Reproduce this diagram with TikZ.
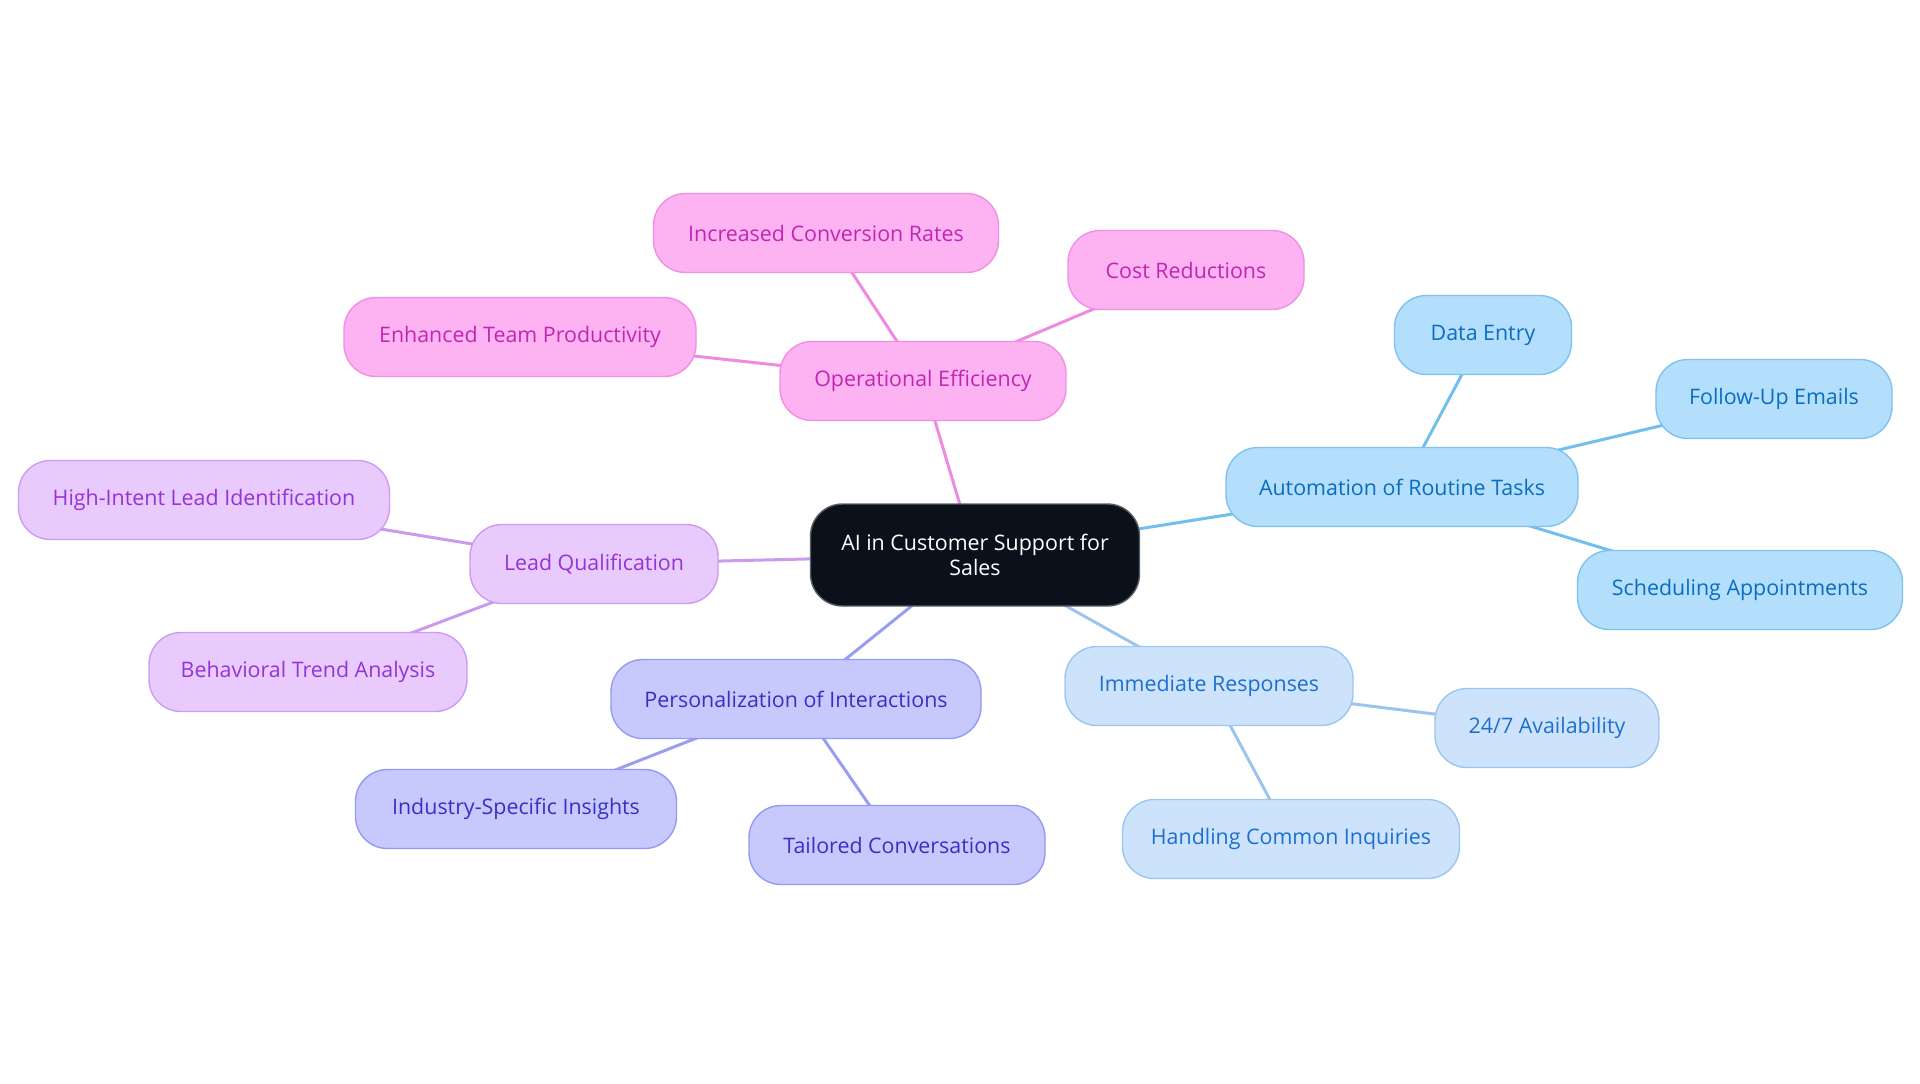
\documentclass[tikz,border=0pt]{standalone}
\usepackage{fontspec}
\setmainfont{Open Sans}
\usetikzlibrary{backgrounds}
\definecolor{cfill}{HTML}{0B111B}
\definecolor{cdraw}{HTML}{5A5F66}
\definecolor{pkfill}{HTML}{FDB3F1}
\definecolor{pkdraw}{HTML}{F08FE3}
\definecolor{pktext}{HTML}{C026B3}
\definecolor{pkedge}{HTML}{EE8BE0}
\definecolor{pufill}{HTML}{E8CAFC}
\definecolor{pudraw}{HTML}{CE9BF0}
\definecolor{putext}{HTML}{9333D8}
\definecolor{puedge}{HTML}{C99AF0}
\definecolor{infill}{HTML}{C7C9FD}
\definecolor{indraw}{HTML}{959AF2}
\definecolor{intext}{HTML}{3730C4}
\definecolor{inedge}{HTML}{999EF0}
\definecolor{lbfill}{HTML}{CDE3FB}
\definecolor{lbdraw}{HTML}{9BC6F0}
\definecolor{lbtext}{HTML}{1D6FD0}
\definecolor{lbedge}{HTML}{9CC5EE}
\definecolor{skfill}{HTML}{B3DEFC}
\definecolor{skdraw}{HTML}{7FC2EE}
\definecolor{sktext}{HTML}{0B6DBF}
\definecolor{skedge}{HTML}{72BFEF}
\tikzset{
  box/.style={rectangle, rounded corners=16pt, minimum height=39.5pt, line width=0.7pt, inner sep=0pt, font=\fontsize{10.7pt}{12.8pt}\selectfont},
  pkbox/.style={box, fill=pkfill, draw=pkdraw, text=pktext},
  pubox/.style={box, fill=pufill, draw=pudraw, text=putext},
  inbox/.style={box, fill=infill, draw=indraw, text=intext},
  lbbox/.style={box, fill=lbfill, draw=lbdraw, text=lbtext},
  skbox/.style={box, fill=skfill, draw=skdraw, text=sktext},
  link/.style={line width=1.5pt},
}
\begin{document}
\begin{tikzpicture}[x=0.5pt,y=-0.5pt]
\useasboundingbox (0,0) rectangle (1920,1083);
\node[box, fill=cfill, draw=cdraw, text=white, minimum width=164.5pt, minimum height=51pt, align=center, font=\fontsize{10.7pt}{12.8pt}\selectfont] (c) at (975,555) {AI in Customer Support for\\Sales};
% pink
\node[pkbox, minimum width=143pt] (op) at (923,381) {Operational Efficiency};
\node[pkbox, minimum width=172.5pt] (icr) at (826,233) {Increased Conversion Rates};
\node[pkbox, minimum width=118pt] (cr) at (1186,270) {Cost Reductions};
\node[pkbox, minimum width=176pt] (etp) at (520,337) {Enhanced Team Productivity};
% purple
\node[pubox, minimum width=124pt] (lq) at (594,564) {Lead Qualification};
\node[pubox, minimum width=185.5pt] (hil) at (204,500) {High-Intent Lead Identification};
\node[pubox, minimum width=159pt] (bta) at (308,672) {Behavioral Trend Analysis};
% indigo
\node[inbox, minimum width=185pt] (poi) at (796,699) {Personalization of Interactions};
\node[inbox, minimum width=160.5pt] (isi) at (516,809) {Industry-Specific Insights};
\node[inbox, minimum width=148pt] (tc) at (897,845) {Tailored Conversations};
% light blue
\node[lbbox, minimum width=144pt] (ir) at (1209,686) {Immediate Responses};
\node[lbbox, minimum width=112pt] (av) at (1547,728) {24/7 Availability};
\node[lbbox, minimum width=168.5pt] (hci) at (1291,839) {Handling Common Inquiries};
% sky blue
\node[skbox, minimum width=176pt] (art) at (1402,487) {Automation of Routine Tasks};
\node[skbox, minimum width=88.5pt] (de) at (1483,335) {Data Entry};
\node[skbox, minimum width=118pt] (fue) at (1774,399) {Follow-Up Emails};
\node[skbox, minimum width=162.5pt] (sa) at (1740,590) {Scheduling Appointments};
\begin{scope}[on background layer]
\draw[link, pkedge] (c.center) -- (op.center);
\draw[link, pkedge] (op.center) -- (icr.center);
\draw[link, pkedge] (op.center) -- (cr.center);
\draw[link, pkedge] (op.center) -- (etp.center);
\draw[link, puedge] (c.center) -- (lq.center);
\draw[link, puedge] (lq.center) -- (hil.center);
\draw[link, puedge] (lq.center) -- (bta.center);
\draw[link, inedge] (c.center) -- (poi.center);
\draw[link, inedge] (poi.center) -- (isi.center);
\draw[link, inedge] (poi.center) -- (tc.center);
\draw[link, lbedge] (c.center) -- (ir.center);
\draw[link, lbedge] (ir.center) -- (av.center);
\draw[link, lbedge] (ir.center) -- (hci.center);
\draw[link, skedge] (c.center) -- (art.center);
\draw[link, skedge] (art.center) -- (de.center);
\draw[link, skedge] (art.center) -- (fue.center);
\draw[link, skedge] (art.center) -- (sa.center);
\end{scope}
\end{tikzpicture}
\end{document}
